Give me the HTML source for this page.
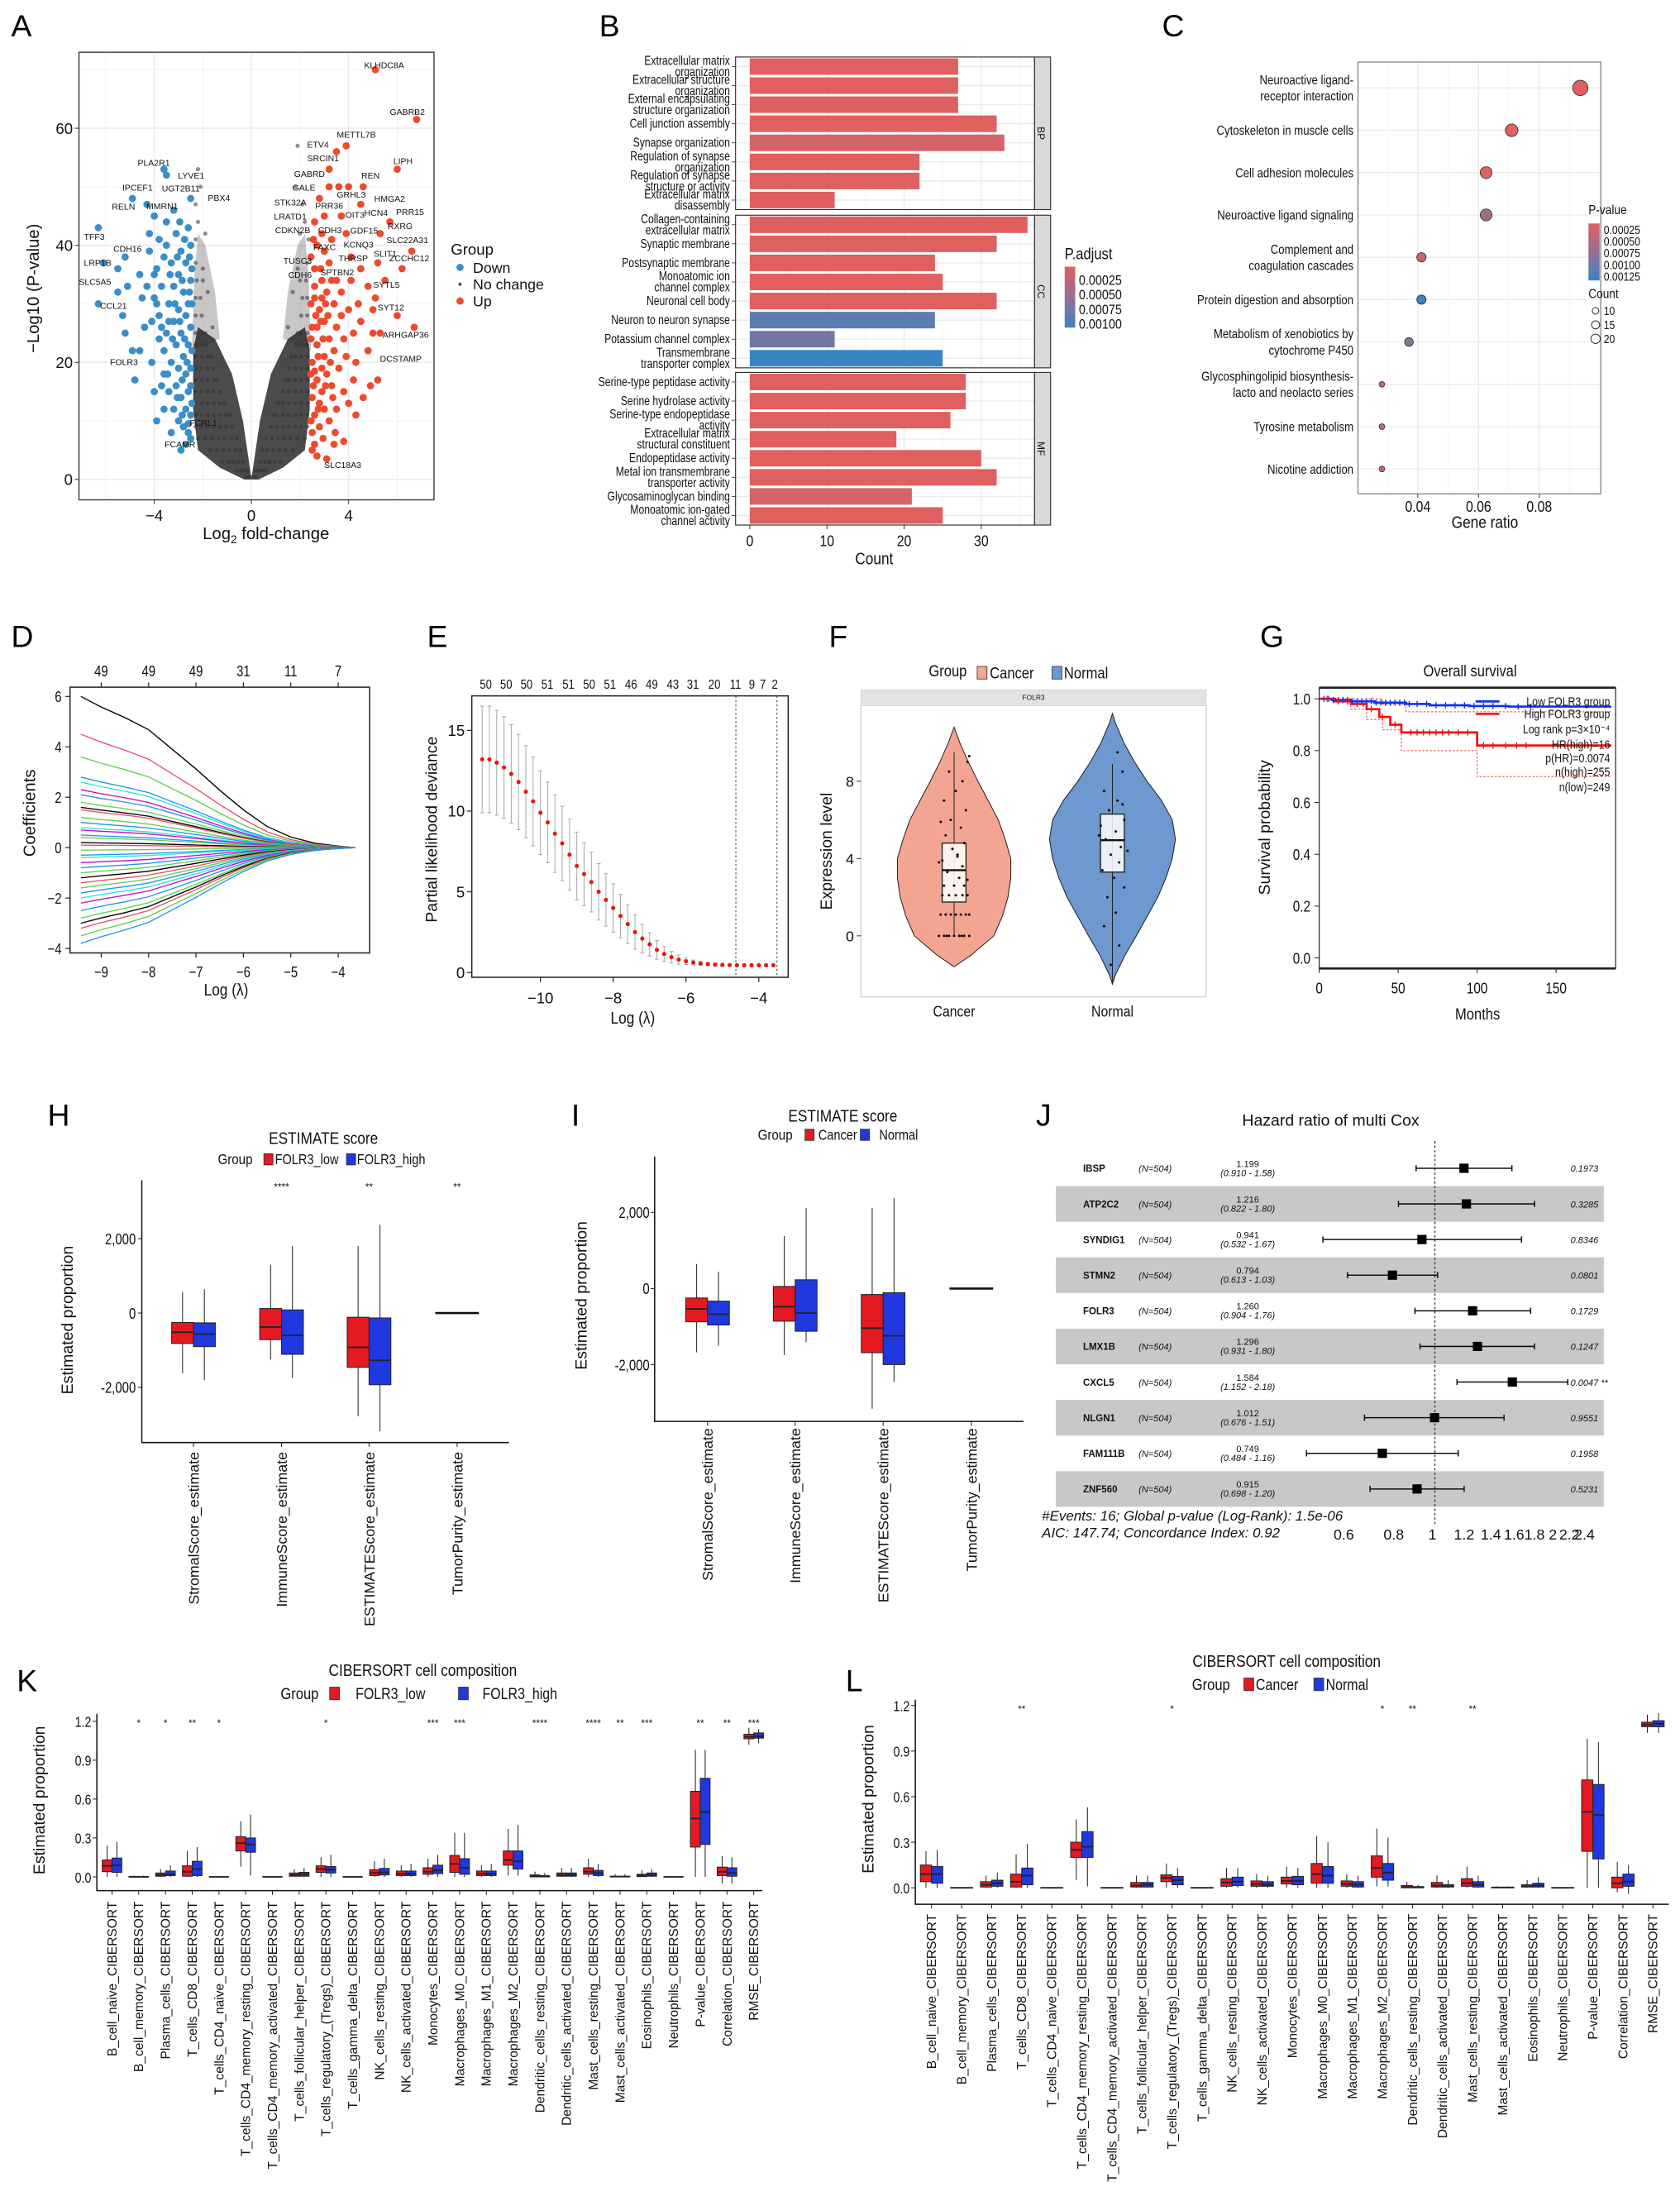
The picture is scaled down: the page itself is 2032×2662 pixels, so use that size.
<!DOCTYPE html>
<html><head><meta charset="utf-8">
<style>
html,body{margin:0;padding:0;background:#fff;}
svg{display:block;font-family:"Liberation Sans",Arial,sans-serif;}
</style></head>
<body>
<svg id="fig" width="2032" height="2662" viewBox="0 0 1200 1572" preserveAspectRatio="none" xmlns="http://www.w3.org/2000/svg">
<rect x="0" y="0" width="1200" height="1572" fill="#fff"/>
<text x="8" y="26" font-size="22">A</text>
<text x="428" y="26" font-size="22">B</text>
<text x="830" y="26" font-size="22">C</text>
<text x="8" y="462" font-size="22">D</text>
<text x="305" y="462" font-size="22">E</text>
<text x="592" y="462" font-size="22">F</text>
<text x="900" y="462" font-size="22">G</text>
<text x="34" y="804" font-size="22">H</text>
<text x="408" y="804" font-size="22">I</text>
<text x="740" y="804" font-size="22">J</text>
<text x="12" y="1208" font-size="22">K</text>
<text x="604" y="1208" font-size="22">L</text>
</svg>
<script>
// ================= DATA =================
// A: volcano
const volDown=[[-2.6,8],[-2.8,9],[-3.0,10],[-2.5,11],[-2.7,12],[-3.2,12],[-2.9,14],[-2.6,15],[-3.4,15],[-3.1,16],[-2.7,18],[-2.5,19],[-3.0,19],[-3.3,20],[-2.8,21],[-3.6,22],[-2.6,23],[-3.1,23],[-2.9,25],[-3.5,25],[-2.5,26],[-3.2,27],[-2.7,28],[-3.8,28],[-3.0,29],[-2.6,30],[-3.4,30],[-4.0,31],[-2.8,32],[-3.2,33],[-3.7,33],[-2.5,34],[-3.0,35],[-4.3,33],[-2.7,37],[-3.3,37],[-3.6,38],[-2.9,39],[-2.5,40],[-3.8,41],[-3.1,42],[-4.2,42],[-2.6,43],[-3.5,44],[-4.0,45],[-3.2,46],[-4.3,47],[-3.5,52],[-3.6,53],[-4.9,48],[-6.3,43],[-5.2,38],[-6.1,37],[-5.5,36],[-5.1,33],[-5.5,32],[-6.3,30],[-5.3,28],[-5.2,25],[-4.9,22],[-4.6,22],[-4.8,17],[-3.6,18],[-4.0,15],[-3.9,10],[-3.6,12],[-2.5,7],[-2.7,6],[-2.5,48],[-4.2,39],[-4.6,35],[-4.4,26],[-4.1,20],[-3.7,16],[-2.45,13],[-2.45,22],[-2.45,30],[-2.45,36],[-2.9,5],[-3.4,27],[-3.9,36],[-4.5,31],
[-2.5,16],[-2.75,24],[-2.95,27],[-3.15,30],[-2.55,32],[-2.85,34],[-3.05,38],[-2.75,41],[-2.95,44],[-3.35,35],[-3.5,40],[-3.25,24],[-3.45,18],[-2.85,17],[-3.05,14],[-2.65,20],[-3.7,26],[-3.9,30],[-4.1,27],[-4.0,35],[-3.8,24],[-2.6,9.5],[-2.85,11],[-3.3,8],[-2.55,38]];
const volUp=[[2.5,5],[2.7,4],[3.1,3.5],[3.4,6],[3.8,6.5],[2.5,8],[2.8,9],[3.2,10],[2.6,11],[3.0,12],[3.5,12],[2.5,14],[2.9,15],[3.3,16],[4.0,13],[4.6,14],[2.7,17],[3.1,18],[3.6,19],[4.2,17],[2.5,20],[3.0,21],[3.4,22],[4.8,22],[5.2,17],[2.7,23],[3.2,24],[3.8,24],[2.5,26],[3.0,27],[4.5,27],[5.3,25],[6.0,28],[2.8,29],[3.4,30],[4.0,29],[2.6,31],[3.1,32],[3.7,32],[4.4,30],[5.1,31],[2.9,34],[3.5,34],[4.1,34],[2.6,36],[3.2,37],[4.5,36],[5.2,37],[6.2,36],[2.7,40],[3.3,41],[3.9,42],[2.6,44],[3.0,45],[3.7,45],[5.3,42],[5.7,44],[6.6,39],[2.8,48],[3.2,50],[3.6,50],[4.0,50],[4.6,50],[4.5,47],[3.2,53],[3.5,56],[3.9,57],[6.0,53],[5.1,70],[6.8,61.5],[6.7,26],[5.0,25],[4.8,33],[4.2,25],[3.0,39],[2.45,10],[2.45,18],[2.45,24],[2.45,30],[2.45,38],[2.6,6],[2.8,13],[2.9,19],[2.7,26],[2.9,42],[5.5,34],[5.0,29],[4.9,16],[4.3,11],
[2.55,16],[2.75,21],[2.95,24],[3.15,28],[2.6,33],[2.85,36],[3.05,30],[2.75,12],[2.95,7],[3.35,14],[3.5,26],[3.25,20],[3.45,8],[2.85,27],[3.05,16],[2.65,28],[3.7,28],[3.9,21],[4.1,38],[4.3,20],[3.8,15],[2.6,18.5],[2.9,31],[3.3,34],[2.55,41]];
const volNcLeftWing=[[0,-0.3],[2,-1.3],[5,-2.2],[12,-2.4],[22,-2.4],[26,-2.2],[24,-1.5],[18,-0.8],[10,-0.35],[3,-0.1],[0,0]];
const volNcRightWing=[[0,0.3],[2,1.3],[5,2.2],[12,2.4],[22,2.4],[26,2.2],[24,1.5],[18,0.8],[10,0.35],[3,0.1],[0,0]];
const volNcLeftHalo=[[22,-2.45],[35,-2.35],[42,-2.2],[40,-1.9],[32,-1.5],[24,-1.3]];
const volNcRightHalo=[[22,2.45],[35,2.35],[42,2.2],[40,1.9],[32,1.5],[24,1.3]];
const volNcLevels=[[0.4,[-0.2,-0.1,0,0.1,0.2]],[1.5,[-0.6,-0.45,-0.3,-0.15,0.15,0.3,0.45,0.6]],[3,[-1.2,-0.95,-0.75,-0.55,-0.35,0.35,0.55,0.75,0.95,1.2]],[5,[-1.7,-1.4,-1.15,-0.9,-0.65,-0.45,0.45,0.65,0.9,1.15,1.4,1.7]],[7,[-2.2,-1.9,-1.6,-1.35,-1.1,-0.85,-0.6,0.6,0.85,1.1,1.35,1.6,1.9,2.2]],[9,[-2.3,-2.05,-1.8,-1.55,-1.3,-1.05,-0.8,0.8,1.05,1.3,1.55,1.8,2.05,2.3]],[11,[-2.3,-2.05,-1.8,-1.55,-1.3,-1.05,-0.9,0.9,1.05,1.3,1.55,1.8,2.05,2.3]],[13,[-2.3,-2.05,-1.8,-1.55,-1.3,-1.1,1.1,1.3,1.55,1.8,2.05,2.3]],[15,[-2.3,-2.05,-1.8,-1.55,-1.3,1.3,1.55,1.8,2.05,2.3]],[17,[-2.3,-2.05,-1.8,-1.55,-1.4,1.4,1.55,1.8,2.05,2.3]],[19,[-2.3,-2.05,-1.8,-1.55,1.55,1.8,2.05,2.3]],[21,[-2.3,-2.05,-1.8,-1.65,1.65,1.8,2.05,2.3]],[23,[-2.3,-2.05,-1.85,1.85,2.05,2.3]],[25,[-2.3,-2.05,-1.9,1.9,2.05,2.3]],[28,[-2.3,-2.05,2.05,2.3]],[31,[-2.3,-2.1,2.1,2.3]],[34,[-2.25,-2.0,2.0,2.25]],[37,[-2.3,2.3]],[41,[-2.3,2.35]],[44,[-2.2,2.2]],[50,[-2.1,1.8]],[57,[1.9]],[26,[-1.6,1.5]],[32,[-1.8,1.7]],[36,[-2.0,1.9]],[42,[-1.9,2.0]],[47,[-2.3,2.1]],[53,[-2.2]]];
const volLabels=[["KLHDC8A",5.46,70.8],["GABRB2",6.42,62.8],["METTL7B",4.32,58.9],["ETV4",2.74,57.2],["SRCIN1",2.95,54.9],["LIPH",6.24,54.4],["GABRD",2.39,52.2],["REN",4.9,51.9],["GALE",2.16,49.9],["GRHL3",4.11,48.7],["HMGA2",5.69,48.0],["STK32A",1.6,47.3],["PRR36",3.2,46.8],["PRR15",6.53,45.7],["HCN4",5.13,45.6],["LRATD1",1.6,44.9],["OIT3",4.26,45.2],["RXRG",6.12,43.3],["CDKN2B",1.7,42.6],["CDH3",3.23,42.6],["GDF15",4.64,42.5],["SLC22A31",6.42,40.9],["FAXC",3.01,39.7],["KCNQ3",4.41,40.1],["SLIT1",5.51,38.6],["ZCCHC12",6.5,37.8],["TUSC3",1.9,37.4],["THRSP",4.19,37.8],["CDH6",2.0,35.0],["SPTBN2",3.53,35.4],["SYTL5",5.56,33.3],["SYT12",5.74,29.4],["ARHGAP36",6.35,24.7],["DCSTAMP",6.15,20.6],["SLC18A3",3.76,2.5],["PLA2R1",-4.02,54.1],["LYVE1",-2.48,51.9],["IPCEF1",-4.69,49.9],["UGT2B11",-2.91,49.7],["PBX4",-1.34,48.1],["RELN",-5.27,46.6],["MMRN1",-3.67,46.7],["TFF3",-6.47,41.5],["CDH16",-5.1,39.4],["LRP1B",-6.33,37.0],["SLC5A5",-6.44,33.8],["CCL21",-5.68,29.7],["FOLR3",-5.25,20.1],["FCRL1",-1.98,9.7],["FCAMR",-2.94,6.0]];
const volXTicks=[-4,0,4];
const volYTicks=[0,20,40,60];

// B: GO enrichment
const goOntologies=["BP","CC","MF"];
const goTerms=[["Extracellular matrix","organization"],["Extracellular structure","organization"],["External encapsulating","structure organization"],["Cell junction assembly"],["Synapse organization"],["Regulation of synapse","organization"],["Regulation of synapse","structure or activity"],["Extracellular matrix","disassembly"],
["Collagen-containing","extracellular matrix"],["Synaptic membrane"],["Postsynaptic membrane"],["Monoatomic ion","channel complex"],["Neuronal cell body"],["Neuron to neuron synapse"],["Potassium channel complex"],["Transmembrane","transporter complex"],
["Serine-type peptidase activity"],["Serine hydrolase activity"],["Serine-type endopeptidase","activity"],["Extracellular matrix","structural constituent"],["Endopeptidase activity"],["Metal ion transmembrane","transporter activity"],["Glycosaminoglycan binding"],["Monoatomic ion-gated","channel activity"]];
const goCounts=[27,27,27,32,33,22,22,11, 36,32,24,25,32,24,11,25, 28,28,26,19,30,32,21,25];
const goPadj=[0.0001,0.0001,0.0001,0.00015,0.0003,0.0002,0.0002,0.0001, 0.0001,0.0001,0.0002,0.0002,0.0001,0.00085,0.00075,0.00105, 0.0001,0.0001,0.00015,0.0001,0.00015,0.0002,0.0003,0.0002];
const goXTicks=[0,10,20,30];
const goLegendTicks=[0.00025,0.0005,0.00075,0.001];

// C: KEGG dot plot
const keggTerms=[["Neuroactive ligand-","receptor interaction"],["Cytoskeleton in muscle cells"],["Cell adhesion molecules"],["Neuroactive ligand signaling"],["Complement and","coagulation cascades"],["Protein digestion and absorption"],["Metabolism of xenobiotics by","cytochrome P450"],["Glycosphingolipid biosynthesis-","lacto and neolacto series"],["Tyrosine metabolism"],["Nicotine addiction"]];
const keggRatio=[0.0935,0.0709,0.0625,0.0625,0.0412,0.0412,0.0371,0.0282,0.0282,0.0282];
const keggP=[0.0001,0.0002,0.0001,0.00065,0.0004,0.00125,0.0008,0.0004,0.0004,0.0004];
const keggCount=[22,15,13,13,8,8,7,3,3,3];
const keggXTicks=[0.04,0.06,0.08];
const keggLegendTicks=[0.00025,0.0005,0.00075,0.001,0.00125];
const keggCountLegend=[10,15,20];

// D: lasso paths
const lassoCoef0=[6.0,4.5,3.6,2.8,2.6,2.3,2.1,1.8,1.6,1.5,1.2,1.0,0.8,0.7,0.5,0.4,0.2,0.1,-0.1,-0.3,-0.4,-0.6,-0.8,-1.0,-1.2,-1.4,-1.6,-1.8,-2.0,-2.2,-2.5,-2.8,-3.0,-3.2,-3.5,-3.8];
const lassoLambda=[-9.43,-9,-8.5,-8,-7.5,-7,-6.5,-6,-5.5,-5,-4.5,-4,-3.64];
const lassoShrink=[1,0.93,0.86,0.78,0.65,0.52,0.38,0.25,0.14,0.07,0.03,0.01,0];
const lassoXTicks=[-9,-8,-7,-6,-5,-4];
const lassoYTicks=[6,4,2,0,-2,-4];
const lassoTopLabels=["49","49","49","31","11","7"];

// E: CV deviance
const cvLambda=[-11.6,-11.4,-11.2,-11.0,-10.8,-10.6,-10.4,-10.2,-10.0,-9.8,-9.6,-9.4,-9.2,-9.0,-8.8,-8.6,-8.4,-8.2,-8.0,-7.8,-7.6,-7.4,-7.2,-7.0,-6.8,-6.6,-6.4,-6.2,-6.0,-5.8,-5.6,-5.4,-5.2,-5.0,-4.8,-4.6,-4.4,-4.2,-4.0,-3.8,-3.6];
const cvMean=[13.2,13.2,13.0,12.7,12.3,11.8,11.2,10.6,9.9,9.3,8.6,8.0,7.3,6.6,6.1,5.6,5.0,4.5,4.0,3.5,3.0,2.5,2.1,1.75,1.4,1.15,0.95,0.8,0.7,0.62,0.56,0.52,0.49,0.47,0.46,0.45,0.45,0.45,0.45,0.45,0.45];
const cvSd=[3.3,3.3,3.25,3.15,3.05,2.95,2.85,2.75,2.6,2.5,2.4,2.3,2.2,2.1,1.95,1.85,1.75,1.62,1.5,1.35,1.2,1.05,0.88,0.72,0.58,0.46,0.36,0.28,0.2,0.15,0.12,0.1,0.08,0.07,0.06,0.06,0.06,0.06,0.06,0.06,0.06];
const cvTopLabels=["50","50","50","51","51","50","51","46","49","43","31","20","11","9","7","2"];
const cvTopLambda=[-11.5,-10.94,-10.38,-9.81,-9.23,-8.66,-8.09,-7.51,-6.94,-6.36,-5.81,-5.22,-4.64,-4.19,-3.89,-3.56];
const cvVLines=[-4.63,-3.5];
const cvXTicks=[-10,-8,-6,-4];
const cvYTicks=[0,5,10,15];

// F: violin
const vioCancerLevels=[-1.6,-1,0,1,2,3,4,5,6,7,8,9,10,10.8];
const vioCancerDens=[0,0.3,0.7,0.85,0.95,1,1,0.9,0.78,0.6,0.42,0.25,0.1,0];
const vioNormalLevels=[-2.5,-2,-1,0,1,2,3,4,5,6,7,8,9,10,11,11.5];
const vioNormalDens=[0,0.05,0.2,0.38,0.55,0.72,0.85,0.95,1,0.95,0.78,0.55,0.35,0.18,0.05,0];
const vioCancerBox=[0,1.75,3.4,4.8,9.5];
const vioNormalBox=[-2.5,3.3,4.95,6.3,8.9];
const vioCancerPts=[0,0,0,0,0,0,0,0,0,1.1,1.1,1.1,1.1,1.1,1.1,1.1,2.1,2.1,2.1,2.1,2.1,2.6,2.6,2.6,3.0,3.3,3.6,3.9,4.2,4.5,4.8,5.2,5.6,6,6.5,7,7.5,8,8.5,9,9.3,3.8,4.1,2.9,5.9];
const vioCancerJit=[-0.9,-0.6,-0.3,0,0.3,0.6,0.9,-0.45,0.45,-0.8,-0.5,-0.2,0.1,0.4,0.7,0.9,-0.7,-0.3,0.1,0.5,0.8,-0.6,0,0.6,0.3,-0.4,0.5,-0.7,0.2,-0.1,0.6,-0.5,0.4,-0.2,0.7,-0.6,0.1,0.5,-0.3,0.8,0.9,-0.9,0.2,0.8,-0.8];
const vioNormalPts=[8.5,7.5,7.0,6.5,6,5.7,5.4,5.0,4.6,4.2,3.8,3.4,3.0,2.5,2.0,1.2,0.5,-0.5,-1.5,9.5,6.8,5.2,4.4];
const vioNormalJit=[0.6,-0.5,0.3,-0.2,0.7,-0.7,0.2,-0.4,0.5,-0.1,0.4,-0.6,0.1,0.7,-0.3,0.2,-0.5,0.4,-0.1,0.3,0.6,-0.8,0.9];
const vioYTicks=[0,4,8];

// G: Kaplan-Meier
const kmLowT=[0,8,20,35,55,70,95,120,185];
const kmLowS=[1,0.995,0.99,0.985,0.98,0.975,0.972,0.97,0.97];
const kmHighT=[0,10,20,30,38,45,52,100,185];
const kmHighS=[1,0.99,0.98,0.96,0.93,0.9,0.87,0.82,0.82];
const kmHighLoT=[0,20,30,40,52,100,185];
const kmHighLoS=[1,0.96,0.92,0.88,0.8,0.7,0.7];
const kmHighUpT=[0,40,55,100,185];
const kmHighUpS=[1,0.98,0.95,0.95,0.95];
const kmLowCensor=[3,6,9,12,15,18,21,24,27,30,33,36,39,42,45,48,51,54,57,62,68,74,80,86,92,98,104,110,118,126,134];
const kmHighCensor=[5,12,18,24,28,33,40,48,58,62,66,70,74,78,82,88,94,104,110,118,125,131];
const kmXTicks=[0,50,100,150];
const kmYTicks=[0,0.2,0.4,0.6,0.8,1.0];
const kmLegend=["Low FOLR3 group","High FOLR3 group","Log rank p=3\u00d710\u207b\u2074","HR(high)=16","p(HR)=0.0074","n(high)=255","n(low)=249"];

// H, I: ESTIMATE boxplots
const estCats=["StromalScore_estimate","ImmuneScore_estimate","ESTIMATEScore_estimate","TumorPurity_estimate"];
const hLow=[[-1619,-819,-518,-254,565],[-1252,-715,-376,122,1299],[-2776,-1459,-922,-113,1807],[0,0,0,0,0]];
const hHigh=[[-1807,-904,-565,-264,640],[-1750,-1111,-602,85,1807],[-3181,-1929,-1271,-132,2372],[0,0,0,0,0]];
const hStars=["","****","**","**"];
const iCancer=[[-1674,-874,-534,-248,644],[-1748,-856,-478,55,1380],[-3156,-1684,-1040,-156,2116],[0,0,0,0,0]];
const iNormal=[[-1500,-957,-672,-331,442],[-1408,-1122,-644,230,2116],[-2447,-1996,-1242,-110,2374],[0,0,0,0,0]];
const estYTicks=[2000,0,-2000];
const estYTickLabels=["2,000","0","-2,000"];

// J: forest plot
const jGenes=["IBSP","ATP2C2","SYNDIG1","STMN2","FOLR3","LMX1B","CXCL5","NLGN1","FAM111B","ZNF560"];
const jHR=[1.199,1.216,0.941,0.794,1.260,1.296,1.584,1.012,0.749,0.915];
const jLo=[0.910,0.822,0.532,0.613,0.904,0.931,1.152,0.676,0.484,0.698];
const jHi=[1.58,1.80,1.67,1.03,1.76,1.80,2.18,1.51,1.16,1.20];
const jP=["0.1973","0.3285","0.8346","0.0801","0.1729","0.1247","0.0047 **","0.9551","0.1958","0.5231"];
const jTicks=[0.6,0.8,1,1.2,1.4,1.6,1.8,2,2.2,2.4];
const jTickLabels=["0.6","0.8","1","1.2","1.4","1.6","1.8","2","2.2","2.4"];

// K, L: CIBERSORT
const cibCats=["B_cell_naive_CIBERSORT","B_cell_memory_CIBERSORT","Plasma_cells_CIBERSORT","T_cells_CD8_CIBERSORT","T_cells_CD4_naive_CIBERSORT","T_cells_CD4_memory_resting_CIBERSORT","T_cells_CD4_memory_activated_CIBERSORT","T_cells_follicular_helper_CIBERSORT","T_cells_regulatory_(Tregs)_CIBERSORT","T_cells_gamma_delta_CIBERSORT","NK_cells_resting_CIBERSORT","NK_cells_activated_CIBERSORT","Monocytes_CIBERSORT","Macrophages_M0_CIBERSORT","Macrophages_M1_CIBERSORT","Macrophages_M2_CIBERSORT","Dendritic_cells_resting_CIBERSORT","Dendritic_cells_activated_CIBERSORT","Mast_cells_resting_CIBERSORT","Mast_cells_activated_CIBERSORT","Eosinophils_CIBERSORT","Neutrophils_CIBERSORT","P-value_CIBERSORT","Correlation_CIBERSORT","RMSE_CIBERSORT"];
const Z=[0,0,0,0,0];
const kLow=[[0,0.04,0.085,0.13,0.24],[0,0,0,0.003,0.01],[0,0.005,0.015,0.03,0.06],[0,0.005,0.04,0.085,0.2],Z,[0.08,0.2,0.26,0.31,0.43],Z,[0,0.005,0.015,0.03,0.06],[0,0.035,0.06,0.085,0.15],Z,[0,0.01,0.03,0.055,0.12],[0,0.01,0.025,0.045,0.09],[0,0.02,0.04,0.07,0.14],[0,0.035,0.1,0.165,0.34],[0,0.01,0.025,0.045,0.09],[0.01,0.09,0.13,0.2,0.37],[0,0,0.005,0.015,0.04],[0,0.005,0.015,0.03,0.07],[0,0.02,0.04,0.07,0.14],[0,0,0.002,0.005,0.02],[0,0.002,0.01,0.02,0.05],Z,[0,0.23,0.45,0.66,0.98],[-0.05,0.01,0.04,0.075,0.16],[1.02,1.065,1.08,1.1,1.15]];
const kHigh=[[0,0.035,0.09,0.145,0.27],[0,0,0,0.003,0.01],[0,0.01,0.02,0.045,0.09],[0,0.01,0.06,0.12,0.23],Z,[0.01,0.19,0.25,0.3,0.48],Z,[0,0.005,0.02,0.035,0.07],[0,0.03,0.055,0.08,0.17],Z,[0,0.015,0.035,0.065,0.14],[0,0.01,0.025,0.045,0.1],[0,0.025,0.05,0.09,0.17],[0,0.02,0.07,0.14,0.34],[0,0.01,0.025,0.045,0.1],[0.01,0.06,0.12,0.2,0.4],[0,0,0.004,0.01,0.03],[0,0.005,0.015,0.03,0.07],[0,0.01,0.03,0.05,0.1],[0,0,0.002,0.005,0.02],[0,0.005,0.015,0.03,0.06],Z,[0,0.25,0.5,0.76,0.98],[-0.05,0.005,0.03,0.07,0.15],[1.03,1.07,1.085,1.11,1.14]];
const kStars=["","*","*","**","*","","","","*","","","","***","***","","","****","","****","**","***","","**","**","***"];
const lCancer=[[0,0.04,0.09,0.15,0.24],Z,[0,0.005,0.02,0.04,0.08],[0,0.005,0.04,0.09,0.22],Z,[0.05,0.2,0.25,0.3,0.45],Z,[0,0.005,0.015,0.035,0.08],[0,0.04,0.065,0.085,0.16],Z,[0,0.01,0.035,0.06,0.13],[0,0.01,0.025,0.045,0.09],[0,0.025,0.045,0.07,0.14],[0,0.03,0.09,0.16,0.34],[0,0.01,0.025,0.045,0.09],[0.01,0.07,0.13,0.21,0.39],[0,0,0.005,0.015,0.04],[0,0.005,0.015,0.035,0.08],[0,0.01,0.03,0.06,0.14],[0,0,0.002,0.004,0.01],[0,0.005,0.01,0.02,0.05],Z,[0,0.24,0.5,0.71,0.98],[-0.03,0,0.03,0.07,0.17],[1.02,1.06,1.075,1.09,1.14]];
const lNormal=[[0,0.03,0.09,0.14,0.25],Z,[0,0.01,0.03,0.05,0.1],[0,0.02,0.08,0.13,0.29],Z,[0.01,0.2,0.27,0.37,0.53],Z,[0,0.005,0.02,0.035,0.08],[0,0.02,0.05,0.075,0.13],Z,[0,0.015,0.04,0.07,0.13],[0,0.01,0.02,0.04,0.08],[0,0.02,0.045,0.075,0.13],[0,0.03,0.08,0.14,0.3],[0,0.005,0.02,0.04,0.08],[0.01,0.05,0.1,0.16,0.33],[0,0,0.003,0.008,0.02],[0,0.005,0.01,0.02,0.05],[0,0.005,0.02,0.04,0.08],[0,0,0.002,0.004,0.01],[0,0.005,0.015,0.03,0.07],Z,[0,0.19,0.48,0.68,0.96],[-0.04,0.01,0.04,0.09,0.15],[1.02,1.06,1.08,1.1,1.15]];
const lStars=["","","","**","","","","","*","","","","","","","*","**","","**","","","","","",""];
const cibYTicks=[0,0.3,0.6,0.9,1.2];
const cibYTickLabels=["0.0","0.3","0.6","0.9","1.2"];

// ================= HELPERS =================
const NS='http://www.w3.org/2000/svg';
const root=document.getElementById('fig');
function mk(tag,attrs,parent){const e=document.createElementNS(NS,tag);for(const k in attrs)e.setAttribute(k,attrs[k]);(parent||root).appendChild(e);return e;}
function tx(p,s,x,y,size,anchor,extra){const e=mk('text',Object.assign({x:x,y:y,'font-size':size,'text-anchor':anchor||'start',fill:'#111'},extra||{}),p);e.textContent=s;return e;}
function txc(p,s,x,y,size,anchor,sx,rot,extra){const e=mk('text',Object.assign({x:0,y:0,transform:'translate('+x+','+y+')'+(rot?' rotate('+rot+')':'')+' scale('+sx+',1)','font-size':size,'text-anchor':anchor||'start',fill:'#111'},extra||{}),p);e.textContent=s;return e;}
function lerpCol(a,b,t){t=Math.max(0,Math.min(1,t));return 'rgb('+a.map((v,i)=>Math.round(v+(b[i]-v)*t)).join(',')+')';}
const RED=[224,96,95],BLUE=[58,132,196];
function pth(pts){return pts.map((p,i)=>(i?'L':'M')+p[0].toFixed(2)+','+p[1].toFixed(2)).join('');}
function stepPath(T,S,fx,fy){let d='M'+fx(T[0])+','+fy(S[0]);for(let i=1;i<T.length;i++){d+='H'+fx(T[i])+'V'+fy(S[i]);}return d;}
let e;

// ================= PANEL A =================
const gA=mk('g',{});


const ax=v=>179.6+v*17.35, ay=v=>342.4-v*4.18;
[-6,-2,2,6].forEach(v=>{e=mk('line',{x1:ax(v),x2:ax(v),y1:37.3,y2:357,stroke:'#F2F2F2','stroke-width':0.5},gA);

});
[10,30,50,70].forEach(v=>{e=mk('line',{x1:56.4,x2:310,y1:ay(v),y2:ay(v),stroke:'#F2F2F2','stroke-width':0.5},gA);

});
volXTicks.forEach(v=>{e=mk('line',{x1:ax(v),x2:ax(v),y1:37.3,y2:357,stroke:'#EBEBEB','stroke-width':0.9},gA);


e=tx(gA,String(v).replace('-','\u2212'),ax(v),372,11,'middle');


e=mk('line',{x1:ax(v),x2:ax(v),y1:357,y2:360,stroke:'#333','stroke-width':0.6},gA);

});
volYTicks.forEach(v=>{e=mk('line',{x1:56.4,x2:310,y1:ay(v),y2:ay(v),stroke:'#EBEBEB','stroke-width':0.9},gA);


e=tx(gA,String(v),52,ay(v)+4,11,'end');


e=mk('line',{x1:53.4,x2:56.4,y1:ay(v),y2:ay(v),stroke:'#333','stroke-width':0.6},gA);

});
[volNcLeftHalo,volNcRightHalo].forEach(w=>{e=mk('path',{d:pth(w.map(p=>[ax(p[1]),ay(p[0])]))+'Z',fill:'#444','fill-opacity':0.3},gA);

});
[volNcLeftWing,volNcRightWing].forEach(w=>{e=mk('path',{d:pth(w.map(p=>[ax(p[1]),ay(p[0])]))+'Z',fill:'#1e1e1e','fill-opacity':0.8},gA);

});
volNcLevels.forEach(lv=>{lv[1].forEach(xv=>{e=mk('circle',{cx:ax(xv),cy:ay(lv[0]),r:1.5,fill:'#333','fill-opacity':0.55},gA);

});});
volDown.forEach(p=>{e=mk('circle',{cx:ax(p[0]),cy:ay(p[1]),r:2.6,fill:'#3B8EC5'},gA);

});
volUp.forEach(p=>{e=mk('circle',{cx:ax(p[0]),cy:ay(p[1]),r:2.6,fill:'#EE4A2D'},gA);

});
volLabels.forEach(l=>{e=tx(gA,l[0],ax(l[1]),ay(l[2])+2.2,6.2,'middle');

});
e=mk('rect',{x:56.4,y:37.3,width:253.6,height:319.7,fill:'none',stroke:'#333','stroke-width':0.8},gA);


e=tx(gA,'\u2212Log10 (P-value)',27.8,206,12,'middle',{transform:'rotate(-90 27.8 206)'});


e=tx(gA,'',190,385,12,'middle');


e.innerHTML='Log<tspan font-size="8" dy="3">2</tspan><tspan dy="-3"> fold-change</tspan>';
e=tx(gA,'Group',322,182,11,'start');


[['Down','#3B8EC5',191,2.6],['No change','#555',203,1.2],['Up','#EE4A2D',215,2.6]].forEach(it=>{
e=mk('circle',{cx:328.6,cy:it[2],r:it[3],fill:it[1]},gA);


e=tx(gA,it[0],337.8,it[2]+3.8,10.5,'start');

});

// ================= PANEL B =================
const gB=mk('g',{});


const bx=c=>535.6+c*5.51;
const bFacetTop=[40.7,153.7,266], bFacetH=109;
goOntologies.forEach((ont,f)=>{
 const top=bFacetTop[f];
 [5,15,25,35].forEach(v=>{e=mk('line',{x1:bx(v),x2:bx(v),y1:top,y2:top+bFacetH,stroke:'#F3F3F3','stroke-width':0.5},gB);
 
 });
 goXTicks.forEach(v=>{e=mk('line',{x1:bx(v),x2:bx(v),y1:top,y2:top+bFacetH,stroke:'#EBEBEB','stroke-width':0.8},gB);
 
 });
 for(let i=0;i<8;i++){const k=f*8+i;const band=bFacetH/8;const yc=top+band*(i+0.5);
  e=mk('line',{x1:525.4,x2:739,y1:yc,y2:yc,stroke:'#EBEBEB','stroke-width':0.8},gB);
  
  
  const col=lerpCol(RED,BLUE,(goPadj[k]-0.00025)/(0.001-0.00025));
  e=mk('rect',{x:bx(0),y:yc-5.9,width:bx(goCounts[k])-bx(0),height:11.8,fill:col},gB);
  
  
  const lines=goTerms[k];
  lines.forEach((ln,j)=>{const yy=lines.length===1?yc+2.9:yc-1.2+j*8;
   e=txc(gB,ln,521.4,yy,9,'end',0.8,0);
   
   });
  e=mk('line',{x1:522.6,x2:525.4,y1:yc,y2:yc,stroke:'#333','stroke-width':0.5},gB);
  
  
 }
 e=mk('rect',{x:525.4,y:top,width:213.6,height:bFacetH,fill:'none',stroke:'#333','stroke-width':0.7},gB);
 
 
 e=mk('rect',{x:739,y:top,width:11.4,height:bFacetH,fill:'#D9D9D9',stroke:'#333','stroke-width':0.7},gB);
 
 
 e=tx(gB,ont,741,top+bFacetH/2,7,'middle',{transform:'rotate(90 741 '+(top+bFacetH/2)+')'});
 
 
});
goXTicks.forEach(v=>{e=mk('line',{x1:bx(v),x2:bx(v),y1:375,y2:378,stroke:'#333','stroke-width':0.6},gB);


e=txc(gB,String(v),bx(v),390,11,'middle',0.85,0);

});
e=txc(gB,'Count',624.4,403,12,'middle',0.85,0);


e=txc(gB,'P.adjust',760.5,185,11.5,'start',0.85,0);


let defs=mk('defs',{});
let lg=mk('linearGradient',{id:'gradB',x1:0,y1:0,x2:0,y2:1},defs);
mk('stop',{offset:'0',"stop-color":'rgb(224,96,95)'},lg);mk('stop',{offset:'0.5',"stop-color":'rgb(150,110,150)'},lg);mk('stop',{offset:'1',"stop-color":'rgb(58,132,196)'},lg);
e=mk('rect',{x:760.5,y:190.5,width:7.5,height:43.5,fill:'url(#gradB)'},gB);


goLegendTicks.forEach((v,i)=>{const yy=200+i*10.4;e=txc(gB,v.toFixed(5),770.6,yy+3.5,10,'start',0.85,0);

});

// ================= PANEL C =================
const gC=mk('g',{});


const cx_=r=>1012.7+(r-0.04)*2170, cy_=i=>62.8+i*30.24;
[0.03,0.05,0.07,0.09].forEach(v=>{e=mk('line',{x1:cx_(v),x2:cx_(v),y1:44.3,y2:352.7,stroke:'#F4F4F4','stroke-width':0.5},gC);

});
keggXTicks.forEach(v=>{e=mk('line',{x1:cx_(v),x2:cx_(v),y1:44.3,y2:352.7,stroke:'#EBEBEB','stroke-width':0.8},gC);


e=txc(gC,v.toFixed(2),cx_(v),365.5,11,'middle',0.85,0);


e=mk('line',{x1:cx_(v),x2:cx_(v),y1:352.7,y2:355.5,stroke:'#333','stroke-width':0.6},gC);

});
keggTerms.forEach((t,i)=>{const yc=cy_(i);
 e=mk('line',{x1:970,x2:1143.4,y1:yc,y2:yc,stroke:'#EBEBEB','stroke-width':0.8},gC);
 
 
 t.forEach((ln,j)=>{const yy=t.length===1?yc+3.3:yc-2.6+j*11.6;
  e=txc(gC,ln,966.8,yy,9.5,'end',0.82,0);
  
  });
 const col=lerpCol(RED,BLUE,(keggP[i]-0.00025)/(0.00125-0.00025));
 e=mk('circle',{cx:cx_(keggRatio[i]),cy:yc,r:1.17*Math.sqrt(keggCount[i]),fill:col,stroke:'#333','stroke-width':0.5},gC);
 
 
});
e=mk('rect',{x:970,y:44.3,width:173.4,height:308.4,fill:'none',stroke:'#777','stroke-width':0.7},gC);


e=txc(gC,'Gene ratio',1060.6,377,12,'middle',0.85,0);


e=txc(gC,'P-value',1134.6,153,9.5,'start',0.85,0);


e=mk('rect',{x:1134.6,y:159.6,width:8,height:40.7,fill:'url(#gradB)'},gC);


keggLegendTicks.forEach((v,i)=>{e=txc(gC,v.toFixed(5),1145.5,164+i*8.4+3,8.5,'start',0.85,0);

});
e=txc(gC,'Count',1134.6,213,9.5,'start',0.85,0);


keggCountLegend.forEach((v,i)=>{const yy=222+i*10;e=mk('circle',{cx:1139.7,cy:yy,r:1.0*Math.sqrt(v)*0.75,fill:'none',stroke:'#333','stroke-width':0.6},gC);


e=txc(gC,String(v),1145.5,yy+3,8.5,'start',0.85,0);

});

// ================= PANEL D =================
const gD=mk('g',{});


const dx=l=>72.3+(l+9)*33.85, dy=v=>605.4-v*18;
const pal=['#000000','#DF536B','#61D04F','#2297E6','#28E2E5','#CD0BBC','#2297E6','#61D04F'];
lassoCoef0.forEach((c0,i)=>{const pts=lassoLambda.map((l,j)=>[dx(l),dy(c0*lassoShrink[j])]);
 e=mk('path',{d:pth(pts),fill:'none',stroke:pal[i%pal.length],'stroke-width':0.8},gD);
 
 });
e=mk('rect',{x:50,y:490.8,width:214,height:189.8,fill:'none',stroke:'#222','stroke-width':0.9},gD);


lassoXTicks.forEach((v,i)=>{e=mk('line',{x1:dx(v),x2:dx(v),y1:680.6,y2:684,stroke:'#222','stroke-width':0.7},gD);


e=txc(gD,String(v).replace('-','\u2212'),dx(v),698,11,'middle',0.8,0);


e=mk('line',{x1:dx(v),x2:dx(v),y1:487.4,y2:490.8,stroke:'#222','stroke-width':0.7},gD);


e=txc(gD,lassoTopLabels[i],dx(v),483,11,'middle',0.8,0);

});
lassoYTicks.forEach(v=>{e=mk('line',{x1:46.6,x2:50,y1:dy(v),y2:dy(v),stroke:'#222','stroke-width':0.7},gD);


e=txc(gD,String(v).replace('-','\u2212'),44,dy(v)+4,11,'end',0.8,0);

});
e=tx(gD,'Coefficients',25,580.7,12,'middle',{transform:'rotate(-90 25 580.7)'});


e=txc(gD,'Log (\u03bb)',161.5,711,12,'middle',0.85,0);



// ================= PANEL E =================
const gE=mk('g',{});


const ex=l=>386+(l+10)*26, ey=v=>694.6-v*11.53;
cvLambda.forEach((l,i)=>{const x=ex(l),y1=ey(cvMean[i]+cvSd[i]),y2=ey(cvMean[i]-cvSd[i]);
 e=mk('path',{d:'M'+x+','+y1+'V'+y2+'M'+(x-1.4)+','+y1+'H'+(x+1.4)+'M'+(x-1.4)+','+y2+'H'+(x+1.4),stroke:'#A8A8A8','stroke-width':0.6,fill:'none'},gE);
 
 });
cvLambda.forEach((l,i)=>{e=mk('circle',{cx:ex(l),cy:ey(cvMean[i]),r:1.5,fill:'#E8140F'},gE);
 
 });
cvVLines.forEach(l=>{e=mk('line',{x1:ex(l),x2:ex(l),y1:497,y2:698,stroke:'#444','stroke-width':0.6,'stroke-dasharray':'1.5,1.5'},gE);

});
e=mk('rect',{x:337,y:497,width:226,height:201,fill:'none',stroke:'#222','stroke-width':0.9},gE);


cvXTicks.forEach(v=>{e=mk('line',{x1:ex(v),x2:ex(v),y1:698,y2:701.5,stroke:'#222','stroke-width':0.7},gE);


e=tx(gE,String(v).replace('-','\u2212'),ex(v),716.5,11,'middle');

});
cvYTicks.forEach(v=>{e=mk('line',{x1:333.5,x2:337,y1:ey(v),y2:ey(v),stroke:'#222','stroke-width':0.7},gE);


e=tx(gE,String(v),332,ey(v)+4,11,'end');

});
cvTopLabels.forEach((s,i)=>{e=txc(gE,s,ex(cvTopLambda[i]),492,9.5,'middle',0.82,0);

});
e=tx(gE,'Partial likelihood deviance',312,592.4,11.5,'middle',{transform:'rotate(-90 312 592.4)'});


e=txc(gE,'Log (\u03bb)',452,731,12,'middle',0.85,0);



// ================= PANEL F =================
const gF=mk('g',{});


const fy=v=>668.4-v*13.8;
e=mk('rect',{x:615,y:492.8,width:246.5,height:9.9,fill:'#E3E3E3',stroke:'#CFCFCF','stroke-width':0.5},gF);


e=tx(gF,'FOLR3',738.2,500,5,'middle');


e=mk('rect',{x:615,y:503.9,width:246.5,height:208.1,fill:'none',stroke:'#D0D0D0','stroke-width':0.8},gF);


function violin(levels,dens,cxv,half,fill,name){const r=levels.map((v,i)=>[cxv+dens[i]*half,fy(v)]);const l=levels.map((v,i)=>[cxv-dens[i]*half,fy(v)]).reverse();
 const el=mk('path',{d:pth(r.concat(l))+'Z',fill:fill,stroke:'#222','stroke-width':0.6},gF);return el;}
e=violin(vioCancerLevels,vioCancerDens,681.5,40.5,'#F4A591');


e=violin(vioNormalLevels,vioNormalDens,794.6,45,'#6D98D0');


function fbox(b,cxv,name){const w=17;
 const g=mk('g',{},gF);
 mk('line',{x1:cxv,x2:cxv,y1:fy(b[0]),y2:fy(b[4]),stroke:'#222','stroke-width':0.6},g);
 mk('rect',{x:cxv-w/2,y:fy(b[3]),width:w,height:fy(b[1])-fy(b[3]),fill:'#fff','fill-opacity':0.85,stroke:'#222','stroke-width':0.8},g);
 mk('line',{x1:cxv-w/2,x2:cxv+w/2,y1:fy(b[2]),y2:fy(b[2]),stroke:'#111','stroke-width':1.4},g);return g;}
e=fbox(vioCancerBox,681.5);


e=fbox(vioNormalBox,794.6);


vioCancerPts.forEach((v,i)=>{e=mk('circle',{cx:681.5+vioCancerJit[i]*12,cy:fy(v),r:0.9,fill:'#111'},gF);

});
vioNormalPts.forEach((v,i)=>{e=mk('circle',{cx:794.6+vioNormalJit[i]*12,cy:fy(v),r:0.9,fill:'#111'},gF);

});
vioYTicks.forEach(v=>{e=mk('line',{x1:612,x2:615,y1:fy(v),y2:fy(v),stroke:'#333','stroke-width':0.6},gF);


e=tx(gF,String(v),610,fy(v)+4,10.5,'end');

});
[['Cancer',681.5],['Normal',794.6]].forEach(c=>{e=txc(gF,c[0],c[1],726,11,'middle',0.85,0);

});
e=tx(gF,'Expression level',594,608,11.5,'middle',{transform:'rotate(-90 594 608)'});


e=txc(gF,'Group',677,483,11.5,'middle',0.85,0);


[['Cancer','#F4A591',698,707],['Normal','#6D98D0',751.5,760]].forEach(it=>{e=mk('rect',{x:it[2],y:476,width:7,height:9,fill:it[1],stroke:'#333','stroke-width':0.5},gF);


e=txc(gF,it[0],it[3],484.5,11.5,'start',0.85,0);

});

// ================= PANEL G =================
const gG=mk('g',{});


const gx=t=>942.3+t*1.128, gy=s=>684.2-s*185.1;
e=mk('path',{d:stepPath(kmHighLoT,kmHighLoS,gx,gy),fill:'none',stroke:'#F04040','stroke-width':0.6,'stroke-dasharray':'1.5,1.2'},gG);


e=mk('path',{d:stepPath(kmHighUpT,kmHighUpS,gx,gy),fill:'none',stroke:'#F04040','stroke-width':0.6,'stroke-dasharray':'1.5,1.2'},gG);


e=mk('path',{d:stepPath(kmLowT,kmLowS,gx,gy),fill:'none',stroke:'#1030F0','stroke-width':1.6},gG);


e=mk('path',{d:stepPath(kmHighT,kmHighS,gx,gy),fill:'none',stroke:'#F01010','stroke-width':1.6},gG);


function survAt(T,S,t){let s=S[0];for(let i=0;i<T.length;i++){if(T[i]<=t)s=S[i];}return s;}
kmLowCensor.forEach(t=>{const x=gx(t),y=gy(survAt(kmLowT,kmLowS,t));e=mk('path',{d:'M'+(x-1.6)+','+y+'H'+(x+1.6)+'M'+x+','+(y-2.2)+'V'+(y+2.2),stroke:'#1030F0','stroke-width':0.8},gG);

});
kmHighCensor.forEach(t=>{const x=gx(t),y=gy(survAt(kmHighT,kmHighS,t));e=mk('path',{d:'M'+(x-1.6)+','+y+'H'+(x+1.6)+'M'+x+','+(y-2.2)+'V'+(y+2.2),stroke:'#F01010','stroke-width':0.8},gG);

});
e=mk('rect',{x:942.3,y:491.2,width:211.7,height:200.5,fill:'none',stroke:'#222','stroke-width':0.7},gG);


mk('line',{x1:942.3,x2:1154,y1:491.2,y2:491.2,stroke:'#222','stroke-width':1.6},gG);
mk('line',{x1:942.3,x2:1154,y1:691.7,y2:691.7,stroke:'#222','stroke-width':1.6},gG);
kmXTicks.forEach(v=>{e=mk('line',{x1:gx(v),x2:gx(v),y1:691.7,y2:695,stroke:'#222','stroke-width':0.6},gG);


e=txc(gG,String(v),gx(v),709.5,11,'middle',0.82,0);

});
kmYTicks.forEach(v=>{e=mk('line',{x1:939,x2:942.3,y1:gy(v),y2:gy(v),stroke:'#222','stroke-width':0.6},gG);


e=txc(gG,v.toFixed(1),936,gy(v)+4,11,'end',0.82,0);

});
e=txc(gG,'Overall survival',1050,483,11.5,'middle',0.85,0);


e=tx(gG,'Survival probability',907,591,11.5,'middle',{transform:'rotate(-90 907 591)'});


e=txc(gG,'Months',1055.4,728,11.5,'middle',0.85,0);


const kmLegY=[501,509.9,520.7,531.6,541.4,551.3,562.1];
kmLegend.forEach((s,i)=>{e=txc(gG,s,1150,kmLegY[i]+3,8.6,'end',0.85,0);

});
e=mk('line',{x1:1054,x2:1071,y1:509.9,y2:509.9,stroke:'#F01010','stroke-width':1.6},gG);


e=mk('line',{x1:1054,x2:1071,y1:501,y2:501,stroke:'#1030F0','stroke-width':1.6},gG);



// ================= BOX HELPER =================
function drawBox(parent,cxv,w,b,fy2,fill){const g=mk('g',{},parent);
 mk('line',{x1:cxv,x2:cxv,y1:fy2(b[0]),y2:fy2(b[4]),stroke:'#222','stroke-width':0.6},g);
 mk('rect',{x:cxv-w/2,y:fy2(b[3]),width:w,height:Math.max(0.01,fy2(b[1])-fy2(b[3])),fill:fill,stroke:'#222','stroke-width':0.6},g);
 mk('line',{x1:cxv-w/2,x2:cxv+w/2,y1:fy2(b[2]),y2:fy2(b[2]),stroke:'#222','stroke-width':1.1},g);return g;}
const BR='#E31A22', BB='#2038E0';

// ================= PANEL H =================
const gH=mk('g',{});


const hy=v=>937.8-v*0.02655; const hxs=[138.2,201.1,263.6,326.5];
estCats.forEach((c,i)=>{
 if(i<3){e=drawBox(gH,hxs[i]-7.8,15.6,hLow[i],hy,BR);
 
 
 e=drawBox(gH,hxs[i]+7.8,15.6,hHigh[i],hy,BB);
 
 }
 else{e=mk('line',{x1:hxs[i]-15.6,x2:hxs[i]+15.6,y1:hy(hLow[i][2]),y2:hy(hLow[i][2]),stroke:'#111','stroke-width':1.6},gH);
 
 }
 e=mk('line',{x1:hxs[i],x2:hxs[i],y1:1030.3,y2:1033.5,stroke:'#222','stroke-width':0.6},gH);
 
 
 e=tx(gH,c,hxs[i]+3.8,1037,10.5,'end',{transform:'rotate(-90 '+(hxs[i]+3.8)+' 1037)'});
 
 
 e=tx(gH,hStars[i],hxs[i],850,7,'middle');
 
 
});
e=mk('path',{d:'M101.3,843V1030.3H363.5',fill:'none',stroke:'#111','stroke-width':0.9},gH);


estYTicks.forEach((v,i)=>{e=mk('line',{x1:98.5,x2:101.3,y1:hy(v),y2:hy(v),stroke:'#222','stroke-width':0.6},gH);


e=txc(gH,estYTickLabels[i],97,hy(v)+4,11,'end',0.8,0);

});
e=tx(gH,'Estimated proportion',52,942.8,11.5,'middle',{transform:'rotate(-90 52 942.8)'});


e=txc(gH,'ESTIMATE score',231,817,12,'middle',0.85,0);


e=txc(gH,'Group',168,831.5,10.5,'middle',0.85,0);


[['FOLR3_low',BR,188.5,196.4],['FOLR3_high',BB,247.5,255]].forEach(it=>{e=mk('rect',{x:it[2],y:824,width:6.5,height:8,fill:it[1],stroke:'#333','stroke-width':0.5},gH);


e=txc(gH,it[0],it[3],831.5,10.5,'start',0.82,0);

});

// ================= PANEL I =================
const gI=mk('g',{});


const iy=v=>920.3-v*0.0272; const ixs=[505.4,568,630.8,693.8];
estCats.forEach((c,i)=>{
 if(i<3){e=drawBox(gI,ixs[i]-7.8,15.6,iCancer[i],iy,BR);
 
 
 e=drawBox(gI,ixs[i]+7.8,15.6,iNormal[i],iy,BB);
 
 }
 else{e=mk('line',{x1:ixs[i]-15.6,x2:ixs[i]+15.6,y1:iy(iCancer[i][2]),y2:iy(iCancer[i][2]),stroke:'#111','stroke-width':1.6},gI);
 
 }
 e=mk('line',{x1:ixs[i],x2:ixs[i],y1:1015.2,y2:1018.4,stroke:'#222','stroke-width':0.6},gI);
 
 
 e=tx(gI,c,ixs[i]+3.8,1020,10.5,'end',{transform:'rotate(-90 '+(ixs[i]+3.8)+' 1020)'});
 
 
});
e=mk('path',{d:'M467.6,826V1015.2H731',fill:'none',stroke:'#111','stroke-width':0.9},gI);


estYTicks.forEach((v,i)=>{e=mk('line',{x1:464.8,x2:467.6,y1:iy(v),y2:iy(v),stroke:'#222','stroke-width':0.6},gI);


e=txc(gI,estYTickLabels[i],464,iy(v)+4,11,'end',0.8,0);

});
e=tx(gI,'Estimated proportion',419,925.3,11.5,'middle',{transform:'rotate(-90 419 925.3)'});


e=txc(gI,'ESTIMATE score',602,801,12,'middle',0.85,0);


e=txc(gI,'Group',553.7,814,10.5,'middle',0.85,0);


[['Cancer',BR,575,584.5],['Normal',BB,614.5,628]].forEach(it=>{e=mk('rect',{x:it[2],y:806.5,width:6.5,height:8,fill:it[1],stroke:'#333','stroke-width':0.5},gI);


e=txc(gI,it[0],it[3],814,10.5,'start',0.82,0);

});

// ================= PANEL J =================
const gJ=mk('g',{});


const jx=v=>1023.2+Math.log(v)*124, jy=i=>834.4+i*25.45;
jGenes.forEach((g,i)=>{const yc=jy(i);
 if(i%2===1){e=mk('rect',{x:754.2,y:yc-12.7,width:391.4,height:25.45,fill:'#C8C8C8'},gJ);
 
 }
});
e=mk('line',{x1:1024.9,x2:1024.9,y1:815,y2:1090,stroke:'#333','stroke-width':0.8,'stroke-dasharray':'1.6,1.6'},gJ);


jGenes.forEach((g,i)=>{const yc=jy(i);
 e=tx(gJ,g,773.6,yc+2.5,6.8,'start',{'font-weight':'bold'});
 
 
 e=tx(gJ,'(N=504)',813.3,yc+2.5,6.5,'start',{'font-style':'italic'});
 
 
 e=tx(gJ,jHR[i].toFixed(3),891.2,yc-1,6.5,'middle');
 
 
 e=tx(gJ,'('+jLo[i].toFixed(3)+' - '+jHi[i].toFixed(2)+')',891.2,yc+5.5,6.5,'middle',{'font-style':'italic'});
 
 
 e=tx(gJ,jP[i],1121.8,yc+2.5,6.5,'start',{'font-style':'italic'});
 
 
 e=mk('path',{d:'M'+jx(jLo[i])+','+yc+'H'+jx(jHi[i])+'M'+jx(jLo[i])+','+(yc-2.2)+'V'+(yc+2.2)+'M'+jx(jHi[i])+','+(yc-2.2)+'V'+(yc+2.2),stroke:'#111','stroke-width':0.9,fill:'none'},gJ);
 
 
 e=mk('rect',{x:jx(jHR[i])-3.3,y:yc-3.3,width:6.6,height:6.6,fill:'#000'},gJ);
 
 
});
jTicks.forEach((v,i)=>{e=tx(gJ,jTickLabels[i],jx(v),1099.5,10.5,'middle');

});
e=tx(gJ,'Hazard ratio of multi Cox',950.5,804,11.5,'middle');


e=tx(gJ,'#Events: 16; Global p-value (Log-Rank): 1.5e-06',744.2,1086,10,'start',{'font-style':'italic'});


e=tx(gJ,'AIC: 147.74; Concordance Index: 0.92',744.2,1098,10,'start',{'font-style':'italic'});



// ================= PANEL K =================
function cibPanel(g,cfg){
 const yS=cfg.ys;
 cibCats.forEach((c,i)=>{const x=cfg.x0+i*cfg.step;
  e=drawBox(g,x-cfg.w/2,cfg.w,cfg.a[i],yS,BR);
  
  
  e=drawBox(g,x+cfg.w/2,cfg.w,cfg.b[i],yS,BB);
  
  
  e=mk('line',{x1:x,x2:x,y1:cfg.bottom,y2:cfg.bottom+3,stroke:'#222','stroke-width':0.6},g);
  
  
  e=tx(g,c,x+3.2,cfg.labY,9.2,'end',{transform:'rotate(-90 '+(x+3.2)+' '+cfg.labY+')'});
  
  
  e=tx(g,cfg.stars[i],x,cfg.starY,7,'middle');
  
  
 });
 e=mk('path',{d:'M'+cfg.left+','+cfg.top+'V'+cfg.bottom+'H'+cfg.right,fill:'none',stroke:'#111','stroke-width':0.9},g);
 
 
 cibYTicks.forEach((v,i)=>{e=mk('line',{x1:cfg.left-3,x2:cfg.left,y1:yS(v),y2:yS(v),stroke:'#222','stroke-width':0.6},g);
 
 
 e=txc(g,cibYTickLabels[i],cfg.left-4,yS(v)+4,10.5,'end',0.8,0);
 
 });
}
const gK=mk('g',{});


cibPanel(gK,{ys:v=>1340.5-v*92.6,x0:80,step:19.1,w:7,a:kLow,b:kHigh,stars:kStars,left:69.2,right:544.6,top:1224,bottom:1350.3,labY:1358,starY:1233});
e=tx(gK,'Estimated proportion',32,1285.8,11.5,'middle',{transform:'rotate(-90 32 1285.8)'});


e=txc(gK,'CIBERSORT cell composition',302,1197,12,'middle',0.85,0);


e=txc(gK,'Group',214,1213.5,11.5,'middle',0.85,0);


[['FOLR3_low',BR,235.5,254],['FOLR3_high',BB,327.5,344.6]].forEach(it=>{e=mk('rect',{x:it[2],y:1205,width:7,height:9,fill:it[1],stroke:'#333','stroke-width':0.5},gK);


e=txc(gK,it[0],it[3],1213.5,11.5,'start',0.82,0);

});

// ================= PANEL L =================
const gL=mk('g',{});


cibPanel(gL,{ys:v=>1348.3-v*108.5,x0:665.4,step:21.47,w:8,a:lCancer,b:lNormal,stars:lStars,left:653.8,right:1192,top:1214,bottom:1360.1,labY:1367,starY:1223});
e=tx(gL,'Estimated proportion',624,1285,11.5,'middle',{transform:'rotate(-90 624 1285)'});


e=txc(gL,'CIBERSORT cell composition',919,1190.5,12,'middle',0.85,0);


e=txc(gL,'Group',865,1207,11.5,'middle',0.85,0);


[['Cancer',BR,888.5,897],['Normal',BB,938.5,947]].forEach(it=>{e=mk('rect',{x:it[2],y:1198.5,width:7,height:9,fill:it[1],stroke:'#333','stroke-width':0.5},gL);


e=txc(gL,it[0],it[3],1207,11.5,'start',0.82,0);

});
</script>
</body></html>
